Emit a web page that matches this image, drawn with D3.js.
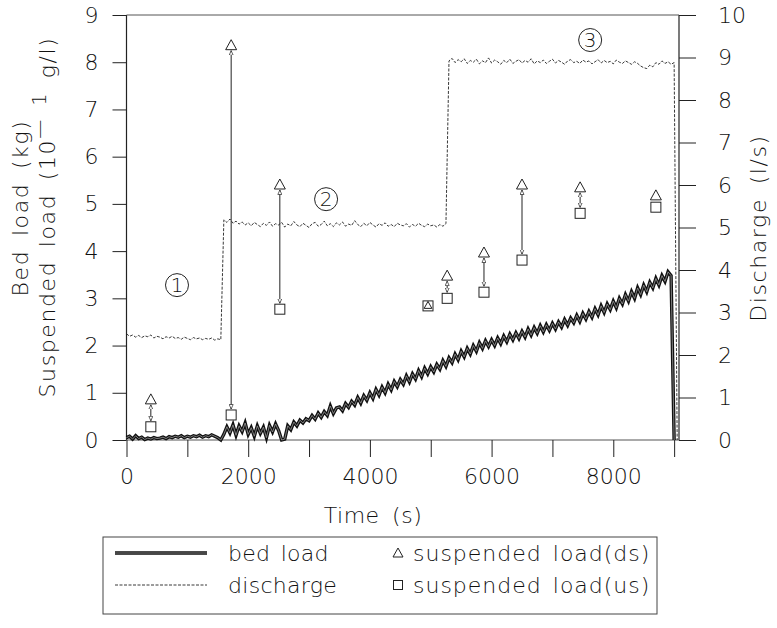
<!DOCTYPE html>
<html><head><meta charset="utf-8">
<script src="https://cdn.jsdelivr.net/npm/d3@7"></script>
<style>
body{margin:0;background:#fff;}
svg text{font-family:"DejaVu Sans ExtraLight","DejaVu Sans",sans-serif;font-weight:200;fill:#111;}
</style></head>
<body><svg id="c" width="777" height="628"></svg>
<script>
// ---- data ----
const sampleStep = 50; // s between samples
// bed load (kg), samples from t=0 s
const bedLoad = [
0.05,0.08,0.02,0.09,0.03,0.06,0.01,0.04,0.02,0.05,0.03,0.04,0.06,0.03,0.07,0.05,0.08,0.06,0.09,0.05,0.08,0.06,0.09,0.07,0.10,0.06,0.09,0.07,0.11,0.08,0.05,
0.00,
0.12,0.28,0.15,0.32,0.10,0.30,0.18,0.36,0.12,0.26,0.08,0.30,0.14,0.27,0.05,0.31,0.17,0.34,0.20,0.00,
0.02,0.30,0.22,0.38,0.30,0.42,0.36,0.45,
0.41,0.52,0.44,0.57,0.48,0.60,0.52,0.72,0.56,0.68,0.70,0.62,0.77,0.69,0.82,0.74,0.90,0.78,0.94,0.84,
1.00,0.88,1.07,0.95,1.12,1.00,1.18,1.06,1.24,1.13,1.28,1.18,1.36,1.23,1.40,1.29,1.47,1.34,1.52,1.40,
1.55,1.44,1.60,1.50,1.68,1.56,1.74,1.64,1.82,1.70,1.88,1.76,1.94,1.82,2.00,1.88,2.06,1.94,2.10,1.98,
2.12,2.00,2.16,2.04,2.20,2.08,2.24,2.12,2.27,2.15,2.30,2.18,2.35,2.22,2.38,2.26,2.42,2.29,2.44,2.32,
2.47,2.35,2.50,2.39,2.55,2.43,2.58,2.48,2.64,2.51,2.68,2.56,2.72,2.60,2.78,2.65,2.84,2.70,2.88,2.76,
2.94,2.80,3.00,2.88,3.08,2.94,3.14,3.00,3.22,3.08,3.28,3.14,3.34,3.22,3.42,3.28,3.48,3.36,3.56,3.48,
0.00];
// discharge (l/s), samples from t=0 s
const discharge = [
2.50,2.44,2.47,2.42,2.46,2.41,2.45,2.43,2.47,2.40,2.44,2.42,2.38,2.43,2.40,2.44,2.39,2.41,2.37,2.42,2.39,2.36,2.41,2.38,2.40,2.36,2.39,2.37,2.40,2.35,2.38,2.36,
5.18,5.12,5.20,5.10,5.15,5.08,5.13,5.06,5.11,5.04,
5.12,5.07,5.02,5.10,5.05,5.13,5.03,5.09,5.06,5.12,
5.01,5.08,5.04,5.14,5.06,5.02,5.10,5.05,5.00,5.09,
5.12,5.03,5.07,5.15,5.04,5.09,5.02,5.11,5.06,5.13,
5.03,5.08,5.05,5.16,5.07,5.02,5.10,5.04,5.12,5.06,
5.01,5.09,5.05,5.11,5.03,5.07,5.02,5.10,5.06,5.04,
5.09,5.01,5.07,5.03,5.10,5.05,5.02,5.08,5.04,5.06,
5.01,5.07,5.03,5.09,
8.92,8.98,8.88,8.95,8.90,8.97,8.86,8.93,8.89,8.96,
8.85,8.92,8.88,8.99,8.87,8.94,8.90,8.84,8.93,8.88,
8.96,8.86,8.91,8.95,8.87,8.93,8.89,8.97,8.85,8.92,
8.88,8.94,8.86,8.91,8.96,8.87,8.93,8.89,8.84,8.92,
8.95,8.88,8.91,8.86,8.94,8.89,8.92,8.85,8.90,8.95,
8.87,8.93,8.88,8.91,8.85,8.94,8.89,8.86,8.92,8.88,
8.84,8.90,8.86,8.80,8.76,8.74,8.82,8.78,8.88,8.84,
8.92,8.86,8.90,8.84,8.88,
0.00];
// suspended load samples (10^-1 g/l)
const ssTime = [400, 1720, 2520, 4955, 5270, 5875, 6500, 7455, 8700];
const ssDown = [0.85, 8.35, 5.40, 2.84, 3.47, 3.96, 5.40, 5.34, 5.17]; // triangle (ds)
const ssUp   = [0.28, 0.53, 2.77, 2.84, 3.00, 3.13, 3.81, 4.80, 4.93]; // square (us)
// phase labels
const phaseLabels = ["1", "2", "3"];
const phaseTime = [830, 3280, 7620];
const phaseValue = [3.28, 5.10, 8.47];
// ticks
const xTicks = [0,1000,2000,3000,4000,5000,6000,7000,8000,9000];
const xTickLabels = [0,2000,4000,6000,8000];
const leftTicks = [0,1,2,3,4,5,6,7,8,9];
const rightTicks = [0,1,2,3,4,5,6,7,8,9,10];

// ---- layout ----
const svg = d3.select("#c");
const L = 126.5, R = 679, T = 15, B = 440;
const x = d3.scaleLinear().domain([0, 9080]).range([L, R]);
const yL = d3.scaleLinear().domain([0, 9]).range([B, T]);
const yR = d3.scaleLinear().domain([0, 10]).range([B, T]);
const ink = "#222";
const fs = 22;
const FF = '"DejaVu Sans ExtraLight","DejaVu Sans",sans-serif';

// frame lines
const g = svg.append("g");
g.append("line").attr("x1", L).attr("x2", L).attr("y1", T).attr("y2", B).attr("stroke", ink).attr("stroke-width", 1.2);
g.append("line").attr("x1", R).attr("x2", R).attr("y1", T).attr("y2", B).attr("stroke", ink).attr("stroke-width", 1.2);
g.append("line").attr("x1", L).attr("x2", R).attr("y1", B).attr("y2", B).attr("stroke", "#555").attr("stroke-width", 1);
g.append("line").attr("x1", L).attr("x2", R).attr("y1", T).attr("y2", T).attr("stroke", "#555").attr("stroke-width", 1);

// axes
function styleAxis(sel){
  sel.select(".domain").remove();
  sel.selectAll(".tick line").attr("stroke", ink).attr("stroke-width", 1);
  sel.selectAll(".tick text").attr("font-size", fs).attr("fill", "#111")
     .style("font-family", FF).style("font-weight", 200);
}
const ax = svg.append("g").attr("transform", `translate(0,${B})`)
  .call(d3.axisBottom(x).tickValues(xTicks).tickSize(17).tickPadding(11)
    .tickFormat(d => xTickLabels.includes(d) ? String(d) : ""));
styleAxis(ax);
const ayl = svg.append("g").attr("transform", `translate(${L},0)`)
  .call(d3.axisLeft(yL).tickValues(leftTicks).tickSize(14).tickPadding(14).tickFormat(d3.format("d")));
styleAxis(ayl);
const ayr = svg.append("g").attr("transform", `translate(${R},0)`)
  .call(d3.axisRight(yR).tickValues(rightTicks).tickSize(17).tickPadding(22).tickFormat(d3.format("d")));
styleAxis(ayr);

// axis titles
function title(sel){ return sel.attr("font-size", fs).attr("text-anchor", "middle")
  .style("letter-spacing", "1.6px").style("word-spacing", "5px"); }
title(svg.append("text").attr("x", 373).attr("y", 523)).style("letter-spacing", "0.5px").text("Time (s)");
title(svg.append("text").attr("transform", `translate(28,208) rotate(-90)`)).text("Bed load (kg)");
const st = title(svg.append("text").attr("transform", `translate(55,217) rotate(-90)`));
st.append("tspan").text("Suspended load (10");
st.append("tspan").attr("dy", -9).attr("font-size", 19).text("\u2014 1");
st.append("tspan").attr("dy", 9).text(" g/l)");
title(svg.append("text").attr("transform", `translate(766,228) rotate(-90)`)).text("Discharge (l/s)");

// discharge line
const lineR = d3.line().x((d, i) => x(i * sampleStep)).y(d => yR(d));
svg.append("path").datum(discharge).attr("d", lineR).attr("fill", "none")
  .attr("stroke", ink).attr("stroke-width", 0.9).attr("stroke-dasharray", "3,1.5");

// bed load line (double stroke)
const lineL = d3.line().x((d, i) => x(i * sampleStep)).y(d => yL(d));
svg.append("path").datum(bedLoad).attr("d", lineL).attr("fill", "none")
  .attr("stroke", "#111").attr("stroke-width", 3.4).attr("stroke-linejoin", "miter");
svg.append("path").datum(bedLoad).attr("d", lineL).attr("fill", "none")
  .attr("stroke", "#999").attr("stroke-width", 0.8);

// arrow markers
const defs = svg.append("defs");
defs.append("marker").attr("id", "ah").attr("viewBox", "0 0 10 10").attr("refX", 9).attr("refY", 5)
  .attr("markerWidth", 5).attr("markerHeight", 5).attr("markerUnits", "userSpaceOnUse").attr("orient", "auto-start-reverse")
  .append("path").attr("d", "M0,1 L9,5 L0,9 Z").attr("fill", "#fff").attr("stroke", ink).attr("stroke-width", 1.4);

const ss = ssTime.map((t, i) => ({t, dn: ssDown[i], up: ssUp[i]}));
const triH = 10, sq = 10;
ss.forEach(d => {
  const cx = x(d.t), yt = yL(d.dn), ys = yL(d.up);
  if (Math.abs(ys - yt) > 12) {
    svg.append("line").attr("x1", cx).attr("x2", cx).attr("y1", yt + 5).attr("y2", ys - 6)
      .attr("stroke", ink).attr("stroke-width", 1)
      .attr("marker-start", "url(#ah)").attr("marker-end", "url(#ah)");
  }
  svg.append("rect").attr("x", cx - sq/2).attr("y", ys - sq/2).attr("width", sq).attr("height", sq)
    .attr("fill", "#fff").attr("stroke", ink).attr("stroke-width", 1);
  const s = Math.abs(ys - yt) < 2 ? 0.7 : 1;
  svg.append("path").attr("d", `M${cx},${yt - triH*s/2 - 1} L${cx + 5.5*s},${yt + triH*s/2 - 1} L${cx - 5.5*s},${yt + triH*s/2 - 1} Z`)
    .attr("fill", s < 1 ? "none" : "#fff").attr("stroke", ink).attr("stroke-width", 1);
});

// phase labels
phaseLabels.forEach((lab, i) => {
  const cx = x(phaseTime[i]), cy = yL(phaseValue[i]);
  svg.append("circle").attr("cx", cx).attr("cy", cy).attr("r", 11.5).attr("fill", "none").attr("stroke", ink).attr("stroke-width", 1);
  svg.append("text").attr("x", cx).attr("y", cy + 7).attr("text-anchor", "middle").attr("font-size", 20).text(lab);
});

// legend
const lg = svg.append("g");
lg.append("rect").attr("x", 103).attr("y", 537).attr("width", 554).attr("height", 77)
  .attr("fill", "none").attr("stroke", "#444").attr("stroke-width", 1);
lg.append("line").attr("x1", 115).attr("x2", 207).attr("y1", 553).attr("y2", 553).attr("stroke", "#111").attr("stroke-width", 3.4);
lg.append("line").attr("x1", 115).attr("x2", 207).attr("y1", 553).attr("y2", 553).attr("stroke", "#999").attr("stroke-width", 0.8);
lg.append("line").attr("x1", 115).attr("x2", 207).attr("y1", 585).attr("y2", 585).attr("stroke", ink).attr("stroke-width", 0.9).attr("stroke-dasharray", "3,1.5");
function ltext(sel){ return sel.attr("font-size", fs).style("letter-spacing", "1px").style("word-spacing", "3px"); }
ltext(lg.append("text").attr("x", 228).attr("y", 561)).style("letter-spacing", "0.3px").text("bed load");
ltext(lg.append("text").attr("x", 228).attr("y", 593)).style("letter-spacing", "0.3px").text("discharge");
lg.append("path").attr("d", "M398,548 L403,557 L393,557 Z").attr("fill", "none").attr("stroke", ink).attr("stroke-width", 1);
lg.append("rect").attr("x", 393.5).attr("y", 580.5).attr("width", 9).attr("height", 9).attr("fill", "none").attr("stroke", ink).attr("stroke-width", 1);
ltext(lg.append("text").attr("x", 413).attr("y", 561)).text("suspended load(ds)");
ltext(lg.append("text").attr("x", 413).attr("y", 593)).text("suspended load(us)");
</script></body></html>
